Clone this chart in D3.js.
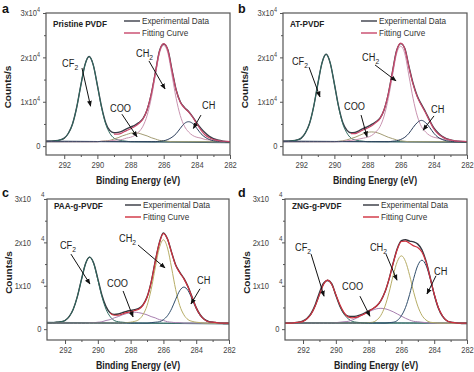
<!DOCTYPE html>
<html><head><meta charset="utf-8">
<script src="https://cdn.jsdelivr.net/npm/d3@7"></script>
<style>html,body{margin:0;padding:0;background:#fff}svg{display:block}</style>
</head><body>
<svg id="chart" width="474" height="372"></svg>
<script>
// ---------- DATA (counts in units of 10^4 counts/s) ----------
const energies = [
 293.1, 292.75, 292.5, 292.25, 292, 291.75, 291.5, 291.25, 291,
 290.75, 290.5, 290.25, 290, 289.75, 289.5, 289.25, 289, 288.75,
 288.5, 288.25, 288, 287.75, 287.5, 287.25, 287, 286.75, 286.5,
 286.25, 286, 285.75, 285.5, 285.25, 285, 284.75, 284.5, 284.25,
 284, 283.75, 283.5, 283.25, 283, 282.75, 282.5, 282.25, 282];
const xTickLabels = [292, 290, 288, 286, 284, 282];
const xMinorTicks = [291, 289, 287, 285, 283];
const yTickValues = [0, 1, 2, 3];
const yTickLabels = ["0", "1x10", "2x10", "3x10"];
const yExponent = "4";
const yMinorTicks = [0.5, 1.5, 2.5];
const sampleNames = ["Pristine PVDF", "AT-PVDF", "PAA-g-PVDF", "ZNG-g-PVDF"];
const panelLetters = ["a", "b", "c", "d"];
const componentNames = ["CF2", "COO", "CH2", "CH"];
const legendLabels = ["Experimental Data", "Fitting Curve"];
const xTitle = "Binding Energy (eV)";
const yTitle = "Counts/s";

// panel a
const aExp = [0.11,0.11,0.12,0.14,0.18,0.29,0.50,0.87,1.37,
 1.83,2.02,1.83,1.37,0.89,0.53,0.35,0.30,0.31,
 0.34,0.39,0.43,0.47,0.53,0.62,0.82,1.17,1.66,
 2.15,2.30,2.17,1.72,1.27,1.00,0.87,0.78,0.66,
 0.52,0.40,0.30,0.22,0.17,0.14,0.12,0.10,0.09];
const aFit = [null,null,null,null,null,null,null,null,null,
 null,null,null,null,null,null,null,0.27,0.27,
 0.30,0.35,0.39,0.44,0.51,0.61,0.82,1.17,1.66,
 2.14,2.31,2.16,1.70,1.26,0.99,0.86,0.77,0.65,
 0.50,0.36,0.25,0.19,0.15,0.13,0.11,0.11,0.10];
const aCF2 = [0.10,0.11,0.12,0.14,0.18,0.29,0.50,0.87,1.37,
 1.83,2.02,1.83,1.37,0.87,0.50,0.29,0.18,0.14,
 0.12,0.11,0.10,0.10,0.10,0.10,0.10,0.10,0.10,
 0.10,0.10,0.10,0.10,0.10,0.10,0.10,0.10,0.10,
 0.10,0.10,0.10,0.10,0.10,0.10,0.10,0.10,0.10];
const aCOO = [0.10,0.10,0.10,0.10,0.10,0.10,0.10,0.10,0.10,
 0.10,0.10,0.10,0.10,0.11,0.12,0.13,0.16,0.19,
 0.23,0.26,0.29,0.30,0.29,0.26,0.23,0.19,0.16,
 0.13,0.12,0.11,0.10,0.10,0.10,0.10,0.10,0.10,
 0.10,0.10,0.10,0.10,0.10,0.10,0.10,0.10,0.10];
const aCH2 = [0.10,0.10,0.10,0.10,0.10,0.10,0.10,0.10,0.10,
 0.10,0.10,0.10,0.10,0.11,0.11,0.12,0.13,0.14,
 0.15,0.18,0.20,0.24,0.32,0.45,0.69,1.08,1.60,
 2.10,2.27,2.10,1.60,1.08,0.69,0.45,0.32,0.24,
 0.20,0.18,0.15,0.14,0.13,0.12,0.11,0.11,0.10];
const aCH = [0.10,0.10,0.10,0.10,0.10,0.10,0.10,0.10,0.10,
 0.10,0.10,0.10,0.10,0.10,0.10,0.10,0.10,0.10,
 0.10,0.10,0.10,0.10,0.10,0.10,0.10,0.10,0.10,
 0.11,0.12,0.15,0.20,0.28,0.40,0.51,0.55,0.51,
 0.40,0.28,0.20,0.15,0.12,0.11,0.10,0.10,0.10];
const aBase = [0.115, 0.075];

// panel b
const bExp = [0.11,0.11,0.12,0.14,0.18,0.30,0.51,0.89,1.40,
 1.87,2.07,1.87,1.40,0.90,0.54,0.36,0.30,0.31,
 0.35,0.40,0.44,0.49,0.55,0.63,0.82,1.17,1.67,
 2.15,2.31,2.20,1.79,1.41,1.13,0.94,0.77,0.58,
 0.41,0.30,0.22,0.17,0.14,0.12,0.11,0.10,0.09];
const bFit = [null,null,null,null,null,null,null,null,null,
 null,null,null,null,null,null,null,0.28,0.28,
 0.32,0.37,0.41,0.46,0.53,0.62,0.82,1.17,1.66,
 2.14,2.32,2.19,1.77,1.39,1.11,0.92,0.75,0.56,
 0.39,0.28,0.21,0.16,0.14,0.12,0.11,0.11,0.10];
const bCF2 = [0.10,0.11,0.12,0.14,0.18,0.30,0.51,0.89,1.40,
 1.87,2.07,1.87,1.40,0.89,0.51,0.30,0.18,0.14,
 0.12,0.11,0.10,0.10,0.10,0.10,0.10,0.10,0.10,
 0.10,0.10,0.10,0.10,0.10,0.10,0.10,0.10,0.10,
 0.10,0.10,0.10,0.10,0.10,0.10,0.10,0.10,0.10];
const bCOO = [0.10,0.10,0.10,0.10,0.10,0.10,0.10,0.10,0.10,
 0.10,0.10,0.10,0.10,0.11,0.12,0.14,0.17,0.20,
 0.24,0.28,0.31,0.32,0.31,0.28,0.24,0.20,0.17,
 0.14,0.12,0.11,0.10,0.10,0.10,0.10,0.10,0.10,
 0.10,0.10,0.10,0.10,0.10,0.10,0.10,0.10,0.10];
const bCH2 = [0.10,0.10,0.10,0.10,0.10,0.10,0.10,0.10,0.10,
 0.10,0.10,0.10,0.10,0.10,0.11,0.12,0.13,0.14,
 0.16,0.18,0.20,0.24,0.32,0.44,0.68,1.07,1.58,
 2.08,2.25,2.08,1.58,1.07,0.68,0.44,0.32,0.24,
 0.20,0.18,0.16,0.14,0.13,0.12,0.11,0.11,0.10];
const bCH = [0.10,0.10,0.10,0.10,0.10,0.10,0.10,0.10,0.10,
 0.10,0.10,0.10,0.10,0.10,0.10,0.10,0.10,0.10,
 0.10,0.10,0.10,0.10,0.10,0.10,0.10,0.10,0.11,
 0.12,0.15,0.20,0.29,0.42,0.53,0.58,0.53,0.42,
 0.29,0.20,0.15,0.12,0.11,0.10,0.10,0.10,0.10];
const bBase = [0.115, 0.08];

// panel c
const cExp = [0.15,0.15,0.16,0.17,0.20,0.29,0.46,0.75,1.14,
 1.51,1.66,1.52,1.16,0.78,0.52,0.38,0.34,0.35,
 0.38,0.41,0.43,0.45,0.48,0.56,0.74,1.08,1.56,
 1.99,2.22,2.08,1.77,1.48,1.31,1.17,0.98,0.74,
 0.50,0.33,0.23,0.18,0.16,0.15,0.14,0.13,0.13];
const cFit = [null,null,null,null,null,null,null,null,null,
 null,null,null,null,null,null,0.37,0.32,0.32,
 0.35,0.38,0.40,0.43,0.46,0.55,0.73,1.07,1.55,
 1.98,2.20,2.07,1.76,1.47,1.30,1.16,0.97,0.73,
 0.49,0.32,0.22,0.17,0.16,0.15,0.14,0.14,0.14];
const cCF2 = [0.14,0.15,0.16,0.17,0.20,0.29,0.46,0.75,1.14,
 1.51,1.66,1.51,1.14,0.75,0.46,0.29,0.20,0.17,
 0.16,0.15,0.14,0.14,0.14,0.14,0.14,0.14,0.14,
 0.14,0.14,0.14,0.14,0.14,0.14,0.14,0.14,0.14,
 0.14,0.14,0.14,0.14,0.14,0.14,0.14,0.14,0.14];
const cCOO = [0.14,0.14,0.14,0.14,0.14,0.14,0.14,0.14,0.14,
 0.14,0.15,0.15,0.16,0.17,0.20,0.22,0.26,0.29,
 0.33,0.36,0.38,0.39,0.38,0.36,0.33,0.29,0.26,
 0.22,0.20,0.17,0.16,0.15,0.15,0.14,0.14,0.14,
 0.14,0.14,0.14,0.14,0.14,0.14,0.14,0.14,0.14];
const cCH2 = [0.14,0.14,0.14,0.14,0.14,0.14,0.14,0.14,0.14,
 0.14,0.14,0.14,0.14,0.14,0.14,0.14,0.14,0.14,
 0.14,0.15,0.16,0.18,0.22,0.33,0.54,0.91,1.41,
 1.87,2.06,1.87,1.41,0.91,0.54,0.33,0.22,0.18,
 0.16,0.15,0.14,0.14,0.14,0.14,0.14,0.14,0.14];
const cCH = [0.14,0.14,0.14,0.14,0.14,0.14,0.14,0.14,0.14,
 0.14,0.14,0.14,0.14,0.14,0.14,0.14,0.14,0.14,
 0.14,0.14,0.14,0.14,0.14,0.14,0.14,0.15,0.16,
 0.17,0.22,0.31,0.47,0.69,0.89,0.97,0.89,0.69,
 0.47,0.31,0.22,0.17,0.16,0.15,0.14,0.14,0.14];
const cBase = [0.16, 0.12];

// panel d
const dExp = [0.14,0.14,0.15,0.16,0.19,0.25,0.37,0.57,0.84,
 1.06,1.12,1.05,0.78,0.53,0.36,0.30,0.29,0.30,
 0.33,0.37,0.42,0.47,0.54,0.66,0.86,1.16,1.53,
 1.86,2.04,2.06,2.03,2.01,1.96,1.83,1.57,1.20,
 0.80,0.49,0.30,0.20,0.16,0.15,0.14,0.13,0.13];
const dFit = [0.14,0.14,0.15,0.16,0.18,0.24,0.35,0.54,0.79,
 1.03,1.13,1.03,0.80,0.56,0.38,0.28,0.26,0.27,
 0.31,0.35,0.41,0.47,0.54,0.66,0.86,1.16,1.52,
 1.84,2.02,2.03,1.98,1.92,1.88,1.78,1.55,1.19,
 0.81,0.50,0.31,0.20,0.16,0.15,0.14,0.14,0.14];
const dCF2 = [0.14,0.14,0.15,0.16,0.18,0.24,0.35,0.54,0.79,
 1.03,1.13,1.03,0.79,0.54,0.35,0.24,0.18,0.16,
 0.15,0.14,0.14,0.14,0.14,0.14,0.14,0.14,0.14,
 0.14,0.14,0.14,0.14,0.14,0.14,0.14,0.14,0.14,
 0.14,0.14,0.14,0.14,0.14,0.14,0.14,0.14,0.14];
const dCOO = [0.14,0.14,0.14,0.14,0.14,0.14,0.14,0.14,0.14,
 0.14,0.14,0.14,0.15,0.16,0.17,0.18,0.21,0.25,
 0.30,0.35,0.40,0.44,0.47,0.48,0.47,0.44,0.40,
 0.35,0.30,0.25,0.21,0.18,0.17,0.16,0.15,0.14,
 0.14,0.14,0.14,0.14,0.14,0.14,0.14,0.14,0.14];
const dCH2 = [0.14,0.14,0.14,0.14,0.14,0.14,0.14,0.14,0.14,
 0.14,0.14,0.14,0.14,0.14,0.14,0.14,0.14,0.14,
 0.14,0.14,0.15,0.16,0.21,0.32,0.53,0.85,1.24,
 1.56,1.69,1.56,1.24,0.85,0.53,0.32,0.21,0.16,
 0.15,0.14,0.14,0.14,0.14,0.14,0.14,0.14,0.14];
const dCH = [0.14,0.14,0.14,0.14,0.14,0.14,0.14,0.14,0.14,
 0.14,0.14,0.14,0.14,0.14,0.14,0.14,0.14,0.14,
 0.14,0.14,0.14,0.14,0.14,0.14,0.14,0.15,0.16,
 0.20,0.31,0.50,0.80,1.17,1.47,1.59,1.47,1.17,
 0.80,0.50,0.31,0.20,0.16,0.15,0.14,0.14,0.14];
const dBase = [0.15, 0.14];

// annotation anchors in data units [energy, counts]: order CF2, COO, CH2, CH
const aNoteLabel = [[292.13,1.78],[289.24,0.77],[287.67,2.01],[283.69,0.84]];
const aNoteFrom  = [[290.93,1.76],[288.52,0.72],[286.89,1.92],[283.75,0.70]];
const aNoteTo    = [[290.41,0.90],[287.61,0.21],[285.92,1.29],[284.21,0.40]];
const bNoteLabel = [[292.56,1.83],[289.42,0.81],[288.33,1.92],[284.17,0.75]];
const bNoteFrom  = [[291.53,1.78],[288.39,0.70],[287.55,1.83],[283.99,0.68]];
const bNoteTo    = [[290.87,1.11],[288.03,0.21],[286.28,1.47],[284.65,0.36]];
const cNoteLabel = [[292.31,1.85],[289.44,0.97],[288.71,2.01],[283.95,1.04]];
const cNoteFrom  = [[291.64,1.73],[288.46,0.88],[287.55,1.94],[283.77,0.93]];
const cNoteTo    = [[290.48,1.04],[287.85,0.28],[285.90,1.41],[284.32,0.58]];
const dNoteLabel = [[292.49,1.80],[289.62,0.90],[287.92,1.80],[284.01,1.25]];
const dNoteFrom  = [[291.51,1.73],[288.53,0.76],[286.94,1.73],[283.89,1.23]];
const dNoteTo    = [[290.72,0.76],[287.92,0.30],[286.27,1.13],[284.44,0.81]];

// ---------- LAYOUT / STYLE ----------
const FONT = '"Liberation Sans", Arial, Helvetica, sans-serif';
const SX = 0.84;
const colorsAB = {exp:'#3a3d48', fit:'#c8476a', CF2:'#2f6b60', COO:'#a39c74', CH2:'#c993b0', CH:'#2c3e5c', base:'#4a5f73'};
const colorsCD = {exp:'#33363e', fit:'#d0303e', CF2:'#2f6b60', COO:'#a87fb0', CH2:'#b7ad66', CH:'#2f4d6b', base:'#4d7880'};

const panels = [
 {left:46, top:13, right:230, bottom:155, yMin:-0.2, legDy:8, nameDy:13.5, lx:2, ly:13, supGap:false, col:colorsAB,
  exp:aExp, fit:aFit, comps:[aCF2,aCOO,aCH2,aCH], base:aBase, nl:aNoteLabel, nf:aNoteFrom, nt:aNoteTo},
 {left:283, top:13, right:467, bottom:155, yMin:-0.2, legDy:8, nameDy:13.5, lx:238, ly:13, supGap:false, col:colorsAB,
  exp:bExp, fit:bFit, comps:[bCF2,bCOO,bCH2,bCH], base:bBase, nl:bNoteLabel, nf:bNoteFrom, nt:bNoteTo},
 {left:47, top:199, right:229, bottom:340, yMin:-0.25, legDy:6, nameDy:9.5, lx:2, ly:197, supGap:true, col:colorsCD,
  exp:cExp, fit:cFit, comps:[cCF2,cCOO,cCH2,cCH], base:cBase, nl:cNoteLabel, nf:cNoteFrom, nt:cNoteTo},
 {left:285, top:199, right:467, bottom:340, yMin:-0.25, legDy:6, nameDy:9.5, lx:238, ly:197, supGap:true, col:colorsCD,
  exp:dExp, fit:dFit, comps:[dCF2,dCOO,dCH2,dCH], base:dBase, nl:dNoteLabel, nf:dNoteFrom, nt:dNoteTo}
];

const svg = d3.select('#chart');
svg.append('rect').attr('width',474).attr('height',372).attr('fill','#fff');
svg.append('defs').append('marker').attr('id','ah').attr('viewBox','0 0 10 10')
  .attr('refX',9).attr('refY',5).attr('markerWidth',6).attr('markerHeight',6).attr('orient','auto')
  .append('path').attr('d','M0,1 L10,5 L0,9 Z').attr('fill','#111');

function txt(g, x, y, s, o) {
  const t = g.append('text')
    .attr('transform', `translate(${x},${y}) scale(${o.sx ?? SX},1)`)
    .attr('text-anchor', o.anchor || 'start')
    .attr('font-family', FONT).attr('font-size', o.size)
    .attr('font-weight', o.weight || 'normal').attr('fill', o.fill || '#222');
  if (s !== null) t.text(s);
  return t;
}

panels.forEach((P, pi) => {
  const g = svg.append('g');
  const x = d3.scaleLinear().domain([293.1, 282]).range([P.left, P.right]);
  const y = d3.scaleLinear().domain([P.yMin, 3.0]).range([P.bottom, P.top]);

  // axes
  const gx = g.append('g').attr('transform', `translate(0,${P.bottom})`)
    .call(d3.axisBottom(x).tickValues(xTickLabels).tickSize(4).tickPadding(3).tickFormat(d3.format('d')));
  gx.select('.domain').remove();
  gx.attr('font-size', 9).attr('font-family', FONT).attr('color', '#555');
  gx.selectAll('text').attr('transform', `scale(${SX},1)`).attr('fill', '#444');
  const gxm = g.append('g').attr('transform', `translate(0,${P.bottom})`)
    .call(d3.axisBottom(x).tickValues(xMinorTicks).tickSize(2).tickFormat(''));
  gxm.select('.domain').remove(); gxm.attr('color', '#555');
  const gy = g.append('g').attr('transform', `translate(${P.left},0)`)
    .call(d3.axisLeft(y).tickValues(yTickValues).tickSize(3).tickFormat(''));
  gy.select('.domain').remove(); gy.attr('color', '#555');
  const gym = g.append('g').attr('transform', `translate(${P.left},0)`)
    .call(d3.axisLeft(y).tickValues(yMinorTicks).tickSize(2).tickFormat(''));
  gym.select('.domain').remove(); gym.attr('color', '#555');

  // y tick labels
  yTickValues.forEach((v, k) => {
    const yy = y(v) + 3.2;
    if (k === 0) { txt(g, P.left - 5.5, yy, yTickLabels[k], {size:9, anchor:'end', fill:'#444'}); return; }
    if (!P.supGap) {
      const t = txt(g, P.left - 6, yy, null, {size:9, anchor:'end', fill:'#444'});
      t.append('tspan').text(yTickLabels[k]);
      t.append('tspan').attr('dy', -4).attr('font-size', 6.5).text(yExponent);
    } else {
      txt(g, P.left - 16, yy, yTickLabels[k], {size:9, anchor:'end', fill:'#444'});
      txt(g, P.left - 2.5, yy - 5, yExponent, {size:7.5, anchor:'end', fill:'#444'});
    }
  });

  // curves
  const line = d3.line().defined(d => d[1] != null)
    .x(d => x(d[0])).y(d => y(d[1])).curve(d3.curveMonotoneX);
  const series = arr => energies.map((e, i) => [e, arr[i]]);
  g.append('path').datum([[energies[0], P.base[0]], [energies[energies.length-1], P.base[1]]])
    .attr('d', line).attr('fill','none').attr('stroke', P.col.base).attr('stroke-width', 1.1);
  g.append('path').datum(series(P.exp)).attr('d', line).attr('fill','none')
    .attr('stroke', P.col.exp).attr('stroke-width', 1.4);
  P.comps.forEach((arr, k) => {
    g.append('path').datum(series(arr)).attr('d', line).attr('fill','none')
      .attr('stroke', P.col[componentNames[k]]).attr('stroke-width', 1.0);
  });
  g.append('path').datum(series(P.fit)).attr('d', line).attr('fill','none')
    .attr('stroke', P.col.fit).attr('stroke-width', 1.2);

  // frame
  g.append('rect').attr('x', P.left).attr('y', P.top)
    .attr('width', P.right - P.left).attr('height', P.bottom - P.top)
    .attr('fill','none').attr('stroke','#555').attr('stroke-width', 1.2);

  // annotations
  componentNames.forEach((name, k) => {
    const [le, lv] = P.nl[k];
    const t = txt(g, x(le), y(lv), null, {size:11, fill:'#222'});
    const sub = /\d$/.test(name);
    t.append('tspan').text(sub ? name.slice(0, -1) : name);
    if (sub) t.append('tspan').attr('dy', 3).attr('font-size', 8).text(name.slice(-1));
    g.append('line')
      .attr('x1', x(P.nf[k][0])).attr('y1', y(P.nf[k][1]))
      .attr('x2', x(P.nt[k][0])).attr('y2', y(P.nt[k][1]))
      .attr('stroke', '#111').attr('stroke-width', 1).attr('marker-end', 'url(#ah)');
  });

  // sample name, legend
  txt(g, P.left + 7, P.top + P.nameDy, sampleNames[pi], {size:9.5, weight:'bold', fill:'#222', sx:0.86});
  [P.col.exp, P.col.fit].forEach((c, k) => {
    const yy = P.top + P.legDy + 12 * k;
    g.append('line').attr('x1', P.left + 78).attr('x2', P.left + 94).attr('y1', yy).attr('y2', yy)
      .attr('stroke', c).attr('stroke-width', 1.4);
    txt(g, P.left + 96, yy + 3.4, legendLabels[k], {size:9.5, fill:'#333', sx:0.86});
  });

  // axis titles
  txt(g, (P.left + P.right) / 2, P.bottom + 28.5, xTitle, {size:10.5, weight:'bold', anchor:'middle', fill:'#222'});
  g.append('text')
    .attr('transform', `translate(${P.left - 35.5},${(P.top + P.bottom) / 2 + 3}) rotate(-90) scale(1,${SX})`)
    .attr('text-anchor', 'middle').attr('font-family', FONT).attr('font-size', 10)
    .attr('font-weight', 'bold').attr('fill', '#222').text(yTitle);

  // panel letter
  txt(g, P.lx, P.ly, panelLetters[pi], {size:12.5, weight:'bold', fill:'#111', sx:1});
});
</script>
</body></html>
